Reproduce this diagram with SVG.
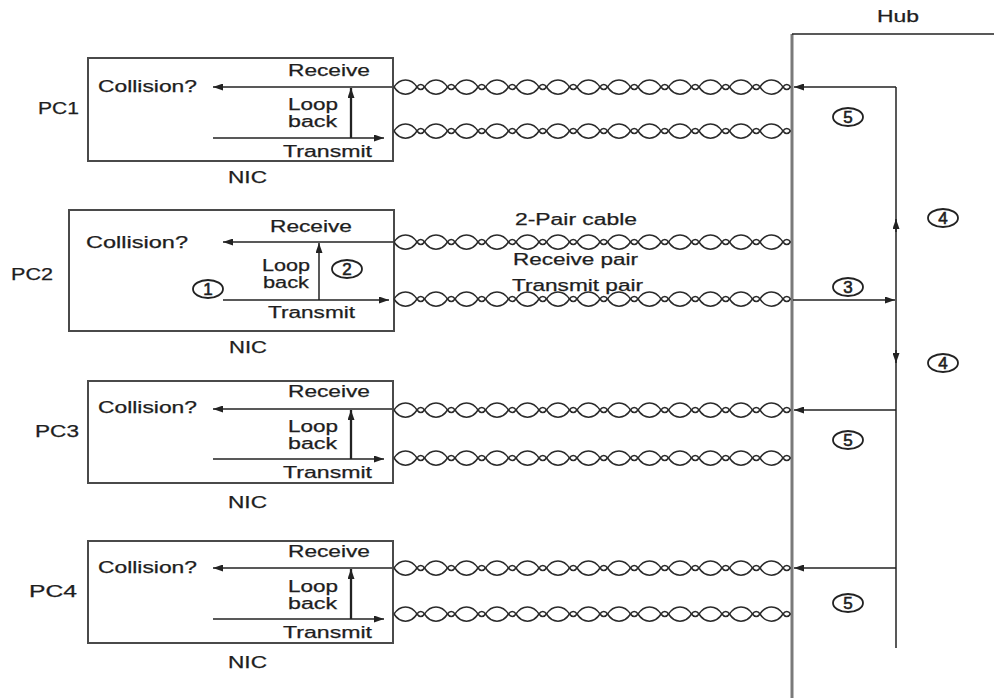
<svg xmlns="http://www.w3.org/2000/svg" xmlns:xlink="http://www.w3.org/1999/xlink" width="994" height="698" viewBox="0 0 994 698">
<style>
  text { font-family: "Liberation Sans", Arial, sans-serif; font-size: 16px; fill: #1e1e1e; stroke: #1e1e1e; stroke-width: 0.25; }
  .num { font-size: 17px; text-anchor: middle; stroke-width: 0.6; }
  .box { fill: #ffffff; stroke: #4a4a4a; stroke-width: 2; }
  .ln { fill: none; stroke: #222; stroke-width: 1.5; }
  .thick { fill: none; stroke: #222; stroke-width: 2.3; }
  .wire { fill: none; stroke: #2a2a2a; stroke-width: 1.5; }
  .circ { fill: none; stroke: #222; stroke-width: 1.8; }
  .hubline { fill: none; stroke: #7a7a7a; stroke-width: 3; }
</style>
<defs>
  <marker id="ah" viewBox="0 0 10 7" refX="10" refY="3.5" markerWidth="10" markerHeight="7" markerUnits="userSpaceOnUse" orient="auto">
    <path d="M0,0 L10,3.5 L0,7 z" fill="#222"/>
  </marker>
  <g id="twisted">
    <path class="wire" d="M0,0 c6,-9.5 17,-9.5 23,0 c2,3.2 5.5,3.2 7.5,0 c6,-9.5 17,-9.5 23,0 c2,3.2 5.5,3.2 7.5,0 c6,-9.5 17,-9.5 23,0 c2,3.2 5.5,3.2 7.5,0 c6,-9.5 17,-9.5 23,0 c2,3.2 5.5,3.2 7.5,0 c6,-9.5 17,-9.5 23,0 c2,3.2 5.5,3.2 7.5,0 c6,-9.5 17,-9.5 23,0 c2,3.2 5.5,3.2 7.5,0 c6,-9.5 17,-9.5 23,0 c2,3.2 5.5,3.2 7.5,0 c6,-9.5 17,-9.5 23,0 c2,3.2 5.5,3.2 7.5,0 c6,-9.5 17,-9.5 23,0 c2,3.2 5.5,3.2 7.5,0 c6,-9.5 17,-9.5 23,0 c2,3.2 5.5,3.2 7.5,0 c6,-9.5 17,-9.5 23,0 c2,3.2 5.5,3.2 7.5,0 c6,-9.5 17,-9.5 23,0 c2,3.2 5.5,3.2 7.5,0 c6,-9.5 17,-9.5 23,0 c2,3.2 5.5,3.2 7.5,0"/>
    <path class="wire" d="M0,0 c6,9.5 17,9.5 23,0 c2,-3.2 5.5,-3.2 7.5,0 c6,9.5 17,9.5 23,0 c2,-3.2 5.5,-3.2 7.5,0 c6,9.5 17,9.5 23,0 c2,-3.2 5.5,-3.2 7.5,0 c6,9.5 17,9.5 23,0 c2,-3.2 5.5,-3.2 7.5,0 c6,9.5 17,9.5 23,0 c2,-3.2 5.5,-3.2 7.5,0 c6,9.5 17,9.5 23,0 c2,-3.2 5.5,-3.2 7.5,0 c6,9.5 17,9.5 23,0 c2,-3.2 5.5,-3.2 7.5,0 c6,9.5 17,9.5 23,0 c2,-3.2 5.5,-3.2 7.5,0 c6,9.5 17,9.5 23,0 c2,-3.2 5.5,-3.2 7.5,0 c6,9.5 17,9.5 23,0 c2,-3.2 5.5,-3.2 7.5,0 c6,9.5 17,9.5 23,0 c2,-3.2 5.5,-3.2 7.5,0 c6,9.5 17,9.5 23,0 c2,-3.2 5.5,-3.2 7.5,0 c6,9.5 17,9.5 23,0 c2,-3.2 5.5,-3.2 7.5,0"/>
  </g>
</defs>

<rect width="994" height="698" fill="#ffffff"/>

<!-- Hub -->
<g id="hub">
  <line class="hubline" x1="792" y1="34" x2="792" y2="698"/>
  <line class="ln" x1="792" y1="34" x2="994" y2="34"/>
  <text x="877" y="22" textLength="42" lengthAdjust="spacingAndGlyphs">Hub</text>
</g>

<!-- PC1 -->
<g id="pc1">
  <rect class="box" x="88" y="58" width="305" height="103"/>
  <text x="38" y="114" textLength="41" lengthAdjust="spacingAndGlyphs">PC1</text>
  <text x="98" y="92" textLength="99" lengthAdjust="spacingAndGlyphs">Collision?</text>
  <text x="288" y="76" textLength="82" lengthAdjust="spacingAndGlyphs">Receive</text>
  <text x="288" y="110" textLength="50" lengthAdjust="spacingAndGlyphs">Loop</text>
  <text x="288" y="127" textLength="49" lengthAdjust="spacingAndGlyphs">back</text>
  <text x="283" y="157" textLength="89" lengthAdjust="spacingAndGlyphs">Transmit</text>
  <text x="228" y="183" textLength="39" lengthAdjust="spacingAndGlyphs">NIC</text>
</g>

<!-- PC2 -->
<g id="pc2">
  <rect class="box" x="69" y="210" width="325" height="121"/>
  <text x="11" y="280" textLength="42" lengthAdjust="spacingAndGlyphs">PC2</text>
  <text x="86" y="248" textLength="102" lengthAdjust="spacingAndGlyphs">Collision?</text>
  <text x="270" y="232" textLength="82" lengthAdjust="spacingAndGlyphs">Receive</text>
  <text x="262" y="271" textLength="48" lengthAdjust="spacingAndGlyphs">Loop</text>
  <text x="263" y="288" textLength="46" lengthAdjust="spacingAndGlyphs">back</text>
  <text x="268" y="318" textLength="87" lengthAdjust="spacingAndGlyphs">Transmit</text>
  <text x="229" y="353" textLength="38" lengthAdjust="spacingAndGlyphs">NIC</text>
</g>

<!-- PC3 -->
<g id="pc3">
  <rect class="box" x="88" y="381" width="305" height="102"/>
  <text x="35" y="437" textLength="44" lengthAdjust="spacingAndGlyphs">PC3</text>
  <text x="98" y="413" textLength="99" lengthAdjust="spacingAndGlyphs">Collision?</text>
  <text x="288" y="397" textLength="82" lengthAdjust="spacingAndGlyphs">Receive</text>
  <text x="288" y="432" textLength="50" lengthAdjust="spacingAndGlyphs">Loop</text>
  <text x="288" y="449" textLength="49" lengthAdjust="spacingAndGlyphs">back</text>
  <text x="283" y="478" textLength="89" lengthAdjust="spacingAndGlyphs">Transmit</text>
  <text x="228" y="508" textLength="39" lengthAdjust="spacingAndGlyphs">NIC</text>
</g>

<!-- PC4 -->
<g id="pc4">
  <rect class="box" x="88" y="541" width="305" height="102"/>
  <text x="29" y="597" textLength="48" lengthAdjust="spacingAndGlyphs">PC4</text>
  <text x="98" y="573" textLength="99" lengthAdjust="spacingAndGlyphs">Collision?</text>
  <text x="288" y="557" textLength="82" lengthAdjust="spacingAndGlyphs">Receive</text>
  <text x="288" y="592" textLength="50" lengthAdjust="spacingAndGlyphs">Loop</text>
  <text x="288" y="609" textLength="49" lengthAdjust="spacingAndGlyphs">back</text>
  <text x="283" y="638" textLength="89" lengthAdjust="spacingAndGlyphs">Transmit</text>
  <text x="228" y="668" textLength="39" lengthAdjust="spacingAndGlyphs">NIC</text>
</g>

<!-- Connectors -->
<g id="connectors">
  <!-- cables -->
  <use xlink:href="#twisted" href="#twisted" transform="translate(394,87)"/>
  <use xlink:href="#twisted" href="#twisted" transform="translate(394,131)"/>
  <use xlink:href="#twisted" href="#twisted" transform="translate(394,242)"/>
  <use xlink:href="#twisted" href="#twisted" transform="translate(394,299)"/>
  <use xlink:href="#twisted" href="#twisted" transform="translate(394,410)"/>
  <use xlink:href="#twisted" href="#twisted" transform="translate(394,458)"/>
  <use xlink:href="#twisted" href="#twisted" transform="translate(394,568)"/>
  <use xlink:href="#twisted" href="#twisted" transform="translate(394,614)"/>

  <!-- PC1 internals -->
  <line class="ln" x1="392" y1="87" x2="213" y2="87" marker-end="url(#ah)"/>
  <line class="ln" x1="213" y1="138" x2="384" y2="138" marker-end="url(#ah)"/>
  <line class="thick" x1="351" y1="138" x2="351" y2="88" marker-end="url(#ah)"/>
  <!-- PC2 internals -->
  <line class="ln" x1="393" y1="242" x2="223" y2="242" marker-end="url(#ah)"/>
  <line class="ln" x1="223" y1="300" x2="389" y2="300" marker-end="url(#ah)"/>
  <line class="ln" x1="319" y1="300" x2="319" y2="243" marker-end="url(#ah)"/>
  <!-- PC3 internals -->
  <line class="ln" x1="392" y1="409" x2="213" y2="409" marker-end="url(#ah)"/>
  <line class="ln" x1="213" y1="459" x2="384" y2="459" marker-end="url(#ah)"/>
  <line class="thick" x1="351" y1="459" x2="351" y2="410" marker-end="url(#ah)"/>
  <!-- PC4 internals -->
  <line class="ln" x1="392" y1="568" x2="213" y2="568" marker-end="url(#ah)"/>
  <line class="ln" x1="213" y1="619" x2="384" y2="619" marker-end="url(#ah)"/>
  <line class="thick" x1="351" y1="619" x2="351" y2="569" marker-end="url(#ah)"/>

  <!-- Hub internal bus -->
  <line class="ln" x1="896" y1="87" x2="896" y2="648"/>
  <line class="ln" x1="896" y1="87" x2="794" y2="87" marker-end="url(#ah)"/>
  <line class="ln" x1="896" y1="410" x2="794" y2="410" marker-end="url(#ah)"/>
  <line class="ln" x1="896" y1="568" x2="794" y2="568" marker-end="url(#ah)"/>
  <line class="ln" x1="793" y1="300" x2="895" y2="300" marker-end="url(#ah)"/>
  <line class="ln" x1="896" y1="232" x2="896" y2="219" marker-end="url(#ah)"/>
  <line class="ln" x1="896" y1="350" x2="896" y2="363" marker-end="url(#ah)"/>
</g>

<!-- Cable labels -->
<g id="cable-labels">
  <text x="515" y="225" textLength="122" lengthAdjust="spacingAndGlyphs">2-Pair cable</text>
  <text x="513" y="265" textLength="125" lengthAdjust="spacingAndGlyphs">Receive pair</text>
  <text x="512" y="291" textLength="131" lengthAdjust="spacingAndGlyphs">Transmit pair</text>
</g>

<!-- Step markers -->
<g id="steps">
  <g id="step1"><ellipse class="circ" cx="208" cy="289" rx="15" ry="9"/><text class="num" x="208" y="295">1</text></g>
  <g id="step2"><ellipse class="circ" cx="347" cy="269" rx="15" ry="9"/><text class="num" x="347" y="275">2</text></g>
  <g id="step3"><ellipse class="circ" cx="848" cy="287" rx="15" ry="9"/><text class="num" x="848" y="293">3</text></g>
  <g id="step4a"><ellipse class="circ" cx="943" cy="218" rx="15" ry="9"/><text class="num" x="943" y="224">4</text></g>
  <g id="step4b"><ellipse class="circ" cx="943" cy="363" rx="15" ry="9"/><text class="num" x="943" y="369">4</text></g>
  <g id="step5a"><ellipse class="circ" cx="848" cy="117" rx="15" ry="9"/><text class="num" x="848" y="123">5</text></g>
  <g id="step5b"><ellipse class="circ" cx="848" cy="440" rx="15" ry="9"/><text class="num" x="848" y="446">5</text></g>
  <g id="step5c"><ellipse class="circ" cx="848" cy="603" rx="15" ry="9"/><text class="num" x="848" y="609">5</text></g>
</g>
</svg>
